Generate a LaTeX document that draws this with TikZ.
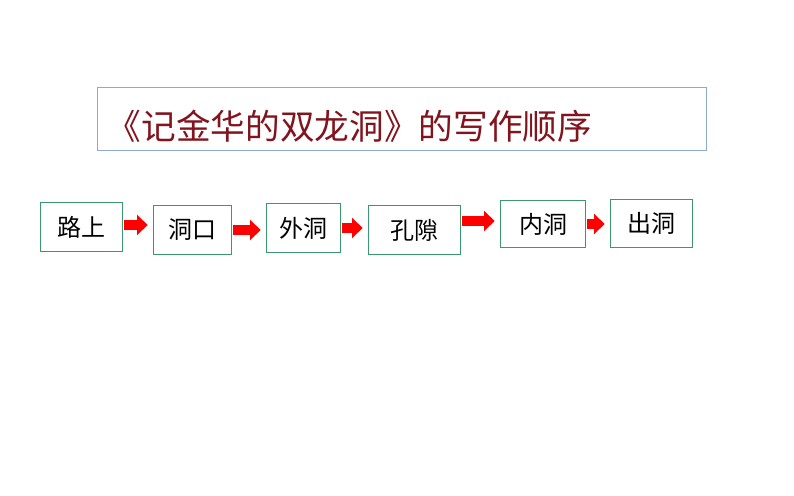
\documentclass[tikz,border=0pt]{standalone}
\usepackage{fontspec}
\newfontfamily\cjk{Noto Sans CJK SC}
\usetikzlibrary{arrows.meta}
\definecolor{boxgreen}{RGB}{60,150,110}
\definecolor{titlered}{RGB}{130,20,30}
\definecolor{titleblue}{RGB}{140,170,210}
\tikzset{
  stepbox/.style={draw=boxgreen, line width=0.8pt, fill=white, anchor=north west, inner sep=0pt, font=\cjk\fontsize{18}{18}\selectfont},
  redarrow/.style={draw=red, line width=7pt, -{Triangle[length=8pt,width=15pt]}, shorten <=1pt, shorten >=4pt}
}
\begin{document}
\begin{tikzpicture}[x=0.75pt,y=-0.75pt]
\useasboundingbox (0,0) rectangle (794,496);
\fill[white] (0,0) rectangle (794,496);
\node[draw=titleblue, line width=0.6pt, anchor=north west, minimum width=609*0.75pt, minimum height=63*0.75pt, inner sep=0pt] (title) at (97,87) {};
\node[anchor=west, text=titlered, font=\cjk\fontsize{26}{26}\selectfont] (tt) at (102,126) {《记金华的双龙洞》的写作顺序};
\node[stepbox, minimum width=82*0.75pt, minimum height=49*0.75pt] (a) at (40,202) {路上};
\node[stepbox, minimum width=78*0.75pt, minimum height=49*0.75pt] (b) at (153,205) {洞口};
\node[stepbox, minimum width=74*0.75pt, minimum height=49*0.75pt] (c) at (266,203) {外洞};
\node[stepbox, minimum width=92*0.75pt, minimum height=49*0.75pt] (d) at (368,205) {孔隙};
\node[stepbox, minimum width=85*0.75pt, minimum height=47*0.75pt] (e) at (500,200) {内洞};
\node[stepbox, minimum width=82*0.75pt, minimum height=48*0.75pt] (f) at (610,199) {出洞};
\draw[redarrow] (a.east |- 0,225) -- (b.west |- 0,225);
\draw[redarrow] (b.east |- 0,230) -- (c.west |- 0,230);
\draw[redarrow] (c.east |- 0,228) -- (d.west |- 0,228);
\draw[redarrow] (d.east |- 0,221) -- (e.west |- 0,221);
\draw[redarrow] (e.east |- 0,224) -- (f.west |- 0,224);
\end{tikzpicture}
\end{document}
